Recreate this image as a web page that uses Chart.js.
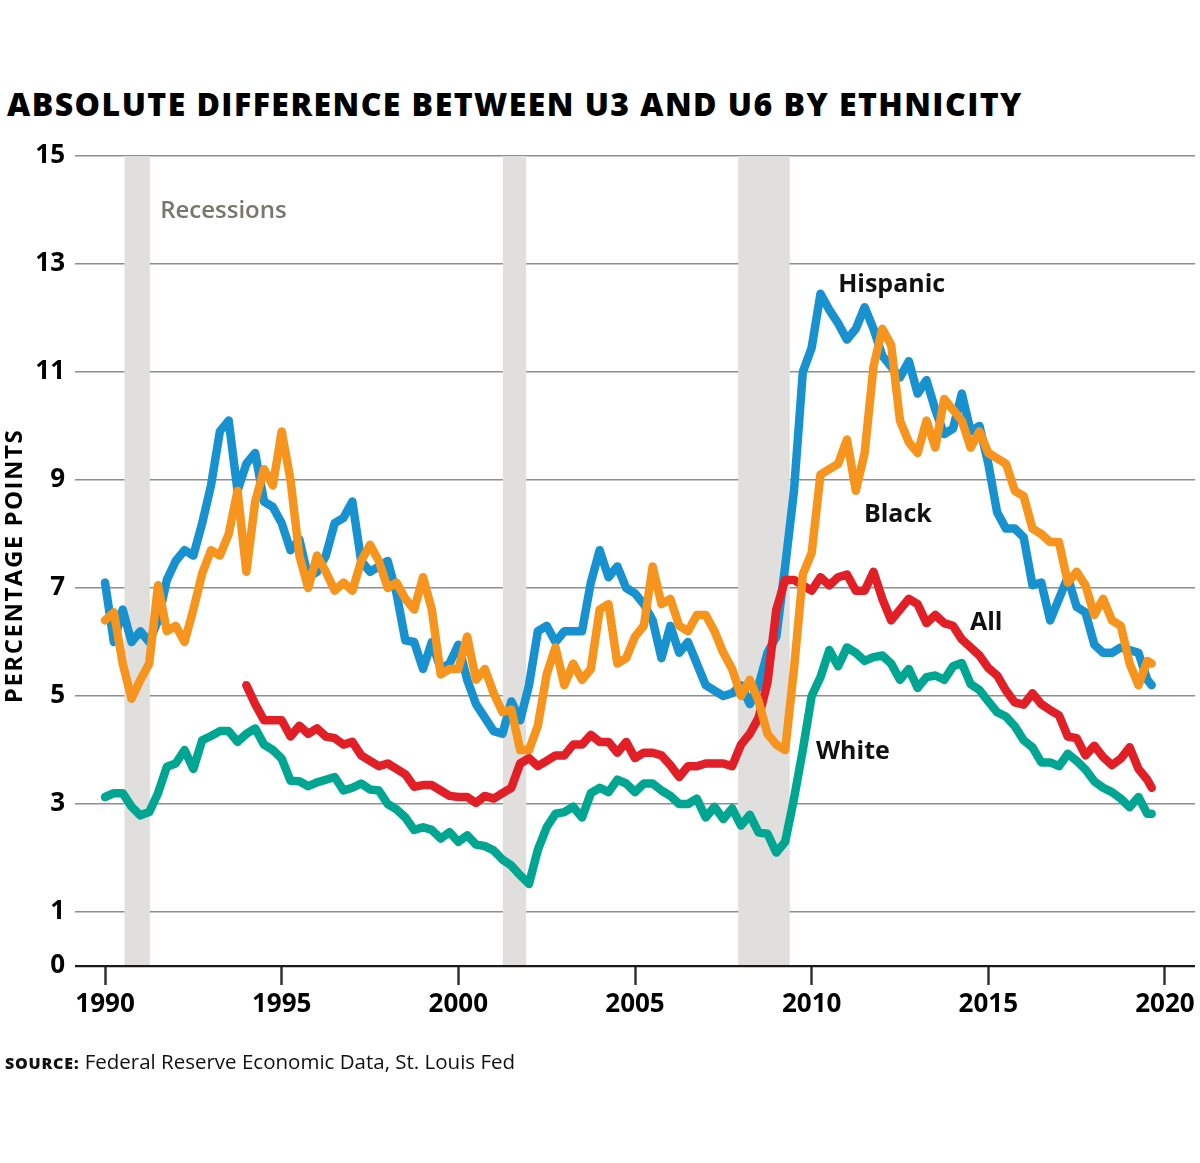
<!DOCTYPE html>
<html>
<head>
<meta charset="utf-8">
<script src="https://cdn.jsdelivr.net/npm/chart.js@4.4.1/dist/chart.umd.min.js"></script>
<style>
  html, body { margin: 0; padding: 0; background: #fff; }
  body { width: 1200px; height: 1163px; position: relative; overflow: hidden; font-family: 'Open Sans', 'Noto Sans', sans-serif; }
  #titulo { position: absolute; left: 7px; top: 88px; margin: 0; font-size: 32px; line-height: 32px; font-weight: 800; letter-spacing: 1.45px; color: #000; white-space: nowrap; }
  #fonte { position: absolute; left: 5px; top: 1048px; font-size: 20.5px; line-height: 26px; color: #111; white-space: nowrap; }
  #fonte b { font-size: 16px; font-weight: 800; letter-spacing: 0.8px; }
  canvas { position: absolute; left: 0; top: 0; }
</style>
</head>
<body>
<h1 id="titulo">ABSOLUTE DIFFERENCE BETWEEN U3 AND U6 BY ETHNICITY</h1>
<canvas id="grafico" width="1200" height="1163"></canvas>
<div id="fonte"><b>SOURCE:</b> Federal Reserve Economic Data, St. Louis Fed</div>
<script>
// quarterly readings, 1990 Q1 .. 2019 Q3, plus the last month (Aug 2019)
const dates = [];
for (let q = 0; q <= 118; q++) dates.push(1990 + q * 0.25);
dates.push(2019.625);

const hispanic = [
  7.1, 6.0, 6.6, 6.0,      // 1990
  6.2, 6.0, 6.4, 7.15,     // 1991
  7.5, 7.7, 7.6, 8.2,      // 1992
  8.9, 9.9, 10.1, 8.8,     // 1993
  9.3, 9.5, 8.6, 8.5,      // 1994
  8.2, 7.7, 7.9, 7.2,      // 1995
  7.3, 7.6, 8.2, 8.3,      // 1996
  8.6, 7.5, 7.3, 7.4,      // 1997
  7.5, 6.9, 6.03, 6.0,     // 1998
  5.5, 6.0, 5.5, 5.6,      // 1999
  5.95, 5.3, 4.85, 4.6,    // 2000
  4.35, 4.3, 4.9, 4.55,    // 2001
  5.2, 6.2, 6.3, 6.0,      // 2002
  6.2, 6.2, 6.2, 7.1,      // 2003
  7.7, 7.2, 7.4, 7.0,      // 2004
  6.9, 6.7, 6.4, 5.7,      // 2005
  6.3, 5.8, 6.0, 5.6,      // 2006
  5.2, 5.1, 5.0, 5.05,     // 2007
  5.2, 4.85, 5.2, 5.8,     // 2008
  6.1, 7.4, 8.8, 11.0,     // 2009
  11.45, 12.45, 12.15, 11.9, // 2010
  11.6, 11.8, 12.2, 11.8,  // 2011
  11.3, 11.1, 10.9, 11.2,  // 2012
  10.6, 10.85, 10.3, 9.85, // 2013
  9.95, 10.6, 9.9, 10.0,   // 2014
  9.3, 8.4, 8.1, 8.1,      // 2015
  7.94, 7.05, 7.1, 6.4,    // 2016
  6.8, 7.2, 6.65, 6.55,    // 2017
  5.95, 5.8, 5.8, 5.9,     // 2018
  5.85, 5.8, 5.3, 5.2      // 2019
];

const black = [
  6.4, 6.55, 5.6, 4.95,    // 1990
  5.3, 5.6, 7.05, 6.2,     // 1991
  6.3, 6.0, 6.6, 7.27,     // 1992
  7.7, 7.6, 8.0, 8.8,      // 1993
  7.3, 8.6, 9.2, 8.9,      // 1994
  9.9, 9.0, 7.6, 7.0,      // 1995
  7.6, 7.3, 6.95, 7.1,     // 1996
  6.95, 7.5, 7.8, 7.5,     // 1997
  7.0, 7.1, 6.8, 6.6,      // 1998
  7.2, 6.6, 5.4, 5.5,      // 1999
  5.5, 6.1, 5.3, 5.5,      // 2000
  5.05, 4.7, 4.75, 4.0,    // 2001
  4.0, 4.45, 5.4, 5.9,     // 2002
  5.2, 5.6, 5.3, 5.5,      // 2003
  6.6, 6.7, 5.6, 5.7,      // 2004
  6.1, 6.3, 7.4, 6.7,      // 2005
  6.8, 6.3, 6.2, 6.5,      // 2006
  6.5, 6.2, 5.8, 5.5,      // 2007
  5.0, 5.3, 4.9, 4.3,      // 2008
  4.1, 4.0, 5.5, 7.25,     // 2009
  7.65, 9.1, 9.2, 9.3,     // 2010
  9.75, 8.8, 9.5, 11.1,    // 2011
  11.8, 11.5, 10.1, 9.7,   // 2012
  9.5, 10.1, 9.6, 10.5,    // 2013
  10.3, 10.1, 9.6, 9.9,    // 2014
  9.5, 9.4, 9.3, 8.8,      // 2015
  8.7, 8.1, 8.0, 7.85,     // 2016
  7.85, 7.1, 7.3, 7.05,    // 2017
  6.5, 6.8, 6.4, 6.3,      // 2018
  5.6, 5.2, 5.65, 5.6      // 2019
];

const all = [
  null, null, null, null,  // 1990
  null, null, null, null,  // 1991
  null, null, null, null,  // 1992
  null, null, null, null,  // 1993
  5.2, 4.85, 4.55, 4.55,   // 1994
  4.55, 4.25, 4.45, 4.3,   // 1995
  4.4, 4.25, 4.22, 4.1,    // 1996
  4.15, 3.9, 3.8, 3.7,     // 1997
  3.75, 3.65, 3.55, 3.32,  // 1998
  3.35, 3.35, 3.25, 3.15,  // 1999
  3.13, 3.13, 3.02, 3.15,  // 2000
  3.1, 3.2, 3.3, 3.75,     // 2001
  3.85, 3.7, 3.8, 3.9,     // 2002
  3.9, 4.1, 4.1, 4.28,     // 2003
  4.15, 4.15, 3.95, 4.15,  // 2004
  3.85, 3.95, 3.95, 3.9,   // 2005
  3.72, 3.5, 3.7, 3.7,     // 2006
  3.75, 3.75, 3.75, 3.7,   // 2007
  4.1, 4.3, 4.6, 5.25,     // 2008
  6.6, 7.15, 7.15, 7.05,   // 2009
  6.95, 7.2, 7.05, 7.2,    // 2010
  7.25, 6.95, 6.95, 7.3,   // 2011
  6.8, 6.4, 6.6, 6.8,      // 2012
  6.7, 6.35, 6.5, 6.35,    // 2013
  6.3, 6.05, 5.9, 5.75,    // 2014
  5.52, 5.38, 5.1, 4.88,   // 2015
  4.84, 5.05, 4.85, 4.74,  // 2016
  4.64, 4.25, 4.22, 3.9,   // 2017
  4.08, 3.87, 3.72, 3.84,  // 2018
  4.05, 3.65, 3.45, 3.3    // 2019
];

const white = [
  3.13, 3.2, 3.2, 2.95,    // 1990
  2.79, 2.85, 3.2, 3.69,   // 1991
  3.75, 4.0, 3.65, 4.18,   // 1992
  4.26, 4.35, 4.35, 4.15,  // 1993
  4.3, 4.4, 4.1, 4.0,      // 1994
  3.84, 3.43, 3.42, 3.33,  // 1995
  3.4, 3.45, 3.5, 3.25,    // 1996
  3.3, 3.38, 3.27, 3.25,   // 1997
  3.0, 2.9, 2.75, 2.52,    // 1998
  2.57, 2.52, 2.36, 2.48,  // 1999
  2.3, 2.42, 2.25, 2.22,   // 2000
  2.14, 1.97, 1.86, 1.68,  // 2001
  1.52, 2.15, 2.57, 2.82,  // 2002
  2.85, 2.95, 2.75, 3.2,   // 2003
  3.3, 3.22, 3.45, 3.38,   // 2004
  3.22, 3.38, 3.38, 3.25,  // 2005
  3.15, 3.0, 3.0, 3.1,     // 2006
  2.75, 2.95, 2.72, 2.92,  // 2007
  2.6, 2.8, 2.47, 2.45,    // 2008
  2.1, 2.3, 3.1, 4.0,      // 2009
  5.0, 5.35, 5.85, 5.55,   // 2010
  5.9, 5.8, 5.65, 5.72,    // 2011
  5.75, 5.6, 5.3, 5.5,     // 2012
  5.15, 5.35, 5.38, 5.3,   // 2013
  5.55, 5.61, 5.22, 5.11,  // 2014
  4.9, 4.7, 4.62, 4.44,    // 2015
  4.18, 4.05, 3.77, 3.77,  // 2016
  3.7, 3.93, 3.8, 3.64,    // 2017
  3.42, 3.3, 3.22, 3.1,    // 2018
  2.94, 3.13, 2.82, 2.82   // 2019
];

const recessionStarts = [1990.55, 2001.26, 2007.92];
const recessionEnds = [1991.27, 2001.92, 2009.38];

const xTickYears = [1990, 1995, 2000, 2005, 2010, 2015, 2020];
const yTickValues = [0, 1, 3, 5, 7, 9, 11, 13, 15];

const seriesNames = ['Black', 'White', 'All', 'Hispanic'];

const FONTE = "'Open Sans', 'Noto Sans', sans-serif";
const cores = {
  Hispanic: '#1791CF',
  Black: '#F7941E',
  All: '#E21E26',
  White: '#00A692',
  recessao: '#E0DFDD'
};

// text notes placed in data units
const rotulos = [
  { texto: 'Recessions', x: 1991.56, y: 13.98, cor: '#77776b', peso: 600, tamanho: 24 },
  { texto: 'Hispanic', x: 2010.75, y: 12.61, cor: '#111', peso: 700, tamanho: 25 },
  { texto: 'Black', x: 2011.48, y: 8.35, cor: '#111', peso: 700, tamanho: 25 },
  { texto: 'All', x: 2014.48, y: 6.35, cor: '#111', peso: 700, tamanho: 25 },
  { texto: 'White', x: 2010.12, y: 3.96, cor: '#111', peso: 700, tamanho: 25 }
];

const pontos = serie => dates.map((d, i) => ({ x: d, y: serie[i] }));
const valores = { Hispanic: hispanic, Black: black, All: all, White: white };

const recessoesPlugin = {
  id: 'recessoes',
  beforeDatasetsDraw(chart) {
    const { ctx, chartArea, scales } = chart;
    ctx.save();
    ctx.fillStyle = cores.recessao;
    recessionStarts.forEach((ini, i) => {
      const x1 = scales.x.getPixelForValue(ini);
      const x2 = scales.x.getPixelForValue(recessionEnds[i]);
      const yTopo = scales.y.getPixelForValue(15);
      ctx.fillRect(x1, yTopo, x2 - x1, chartArea.bottom - yTopo - 1);
    });
    ctx.restore();
  }
};

const rotulosPlugin = {
  id: 'rotulos',
  afterDatasetsDraw(chart) {
    const { ctx, scales } = chart;
    ctx.save();
    ctx.textAlign = 'left';
    ctx.textBaseline = 'middle';
    rotulos.forEach(r => {
      ctx.font = `${r.peso} ${r.tamanho}px ${FONTE}`;
      ctx.fillStyle = r.cor;
      ctx.fillText(r.texto, scales.x.getPixelForValue(r.x), scales.y.getPixelForValue(r.y));
    });
    // y axis title
    ctx.translate(15, (scales.y.top + scales.y.bottom) / 2 + 5);
    ctx.rotate(-Math.PI / 2);
    ctx.textAlign = 'center';
    ctx.font = `700 24px ${FONTE}`;
    ctx.letterSpacing = '1.5px';
    ctx.fillStyle = '#000';
    ctx.fillText('PERCENTAGE POINTS', 0, 0);
    ctx.restore();
  }
};

const ctx = document.getElementById('grafico');
new Chart(ctx, {
  type: 'line',
  data: {
    datasets: seriesNames.map(nome => ({
      label: nome,
      data: pontos(valores[nome]),
      borderColor: cores[nome],
      backgroundColor: cores[nome],
      borderWidth: 8.5,
      borderJoinStyle: 'round',
      borderCapStyle: 'round',
      pointRadius: 0,
      tension: 0,
      fill: false,
      spanGaps: false
    }))
  },
  options: {
    responsive: false,
    animation: false,
    events: [],
    layout: { padding: { left: 0, right: 5, top: 156, bottom: 137 } },
    plugins: {
      legend: { display: false },
      tooltip: { enabled: false }
    },
    scales: {
      x: {
        type: 'linear',
        min: 1989.15,
        max: 2020.85,
        afterBuildTicks: scale => { scale.ticks = xTickYears.map(v => ({ value: v })); },
        afterFit: scale => { scale.height = 60; },
        border: { display: false },
        grid: { drawOnChartArea: false, drawTicks: true, tickLength: 19, tickWidth: 2.5, tickColor: '#333' },
        ticks: {
          padding: 4,
          maxRotation: 0,
          autoSkip: false,
          color: '#000',
          font: { family: FONTE, size: 26, weight: 700 },
          callback: v => String(v)
        }
      },
      y: {
        min: 0,
        max: 15,
        afterBuildTicks: scale => { scale.ticks = yTickValues.map(v => ({ value: v })); },
        afterFit: scale => { scale.width = 75; },
        border: { display: false },
        grid: {
          drawTicks: false,
          color: c => c.tick.value === 0 ? '#1a1a1a' : '#8e8e8e',
          lineWidth: c => c.tick.value === 0 ? 2.2 : 1.4
        },
        ticks: {
          padding: 10,
          color: '#000',
          font: { family: FONTE, size: 26, weight: 700 },
          callback: v => String(v)
        }
      }
    }
  },
  plugins: [recessoesPlugin, rotulosPlugin]
});
</script>
</body>
</html>
